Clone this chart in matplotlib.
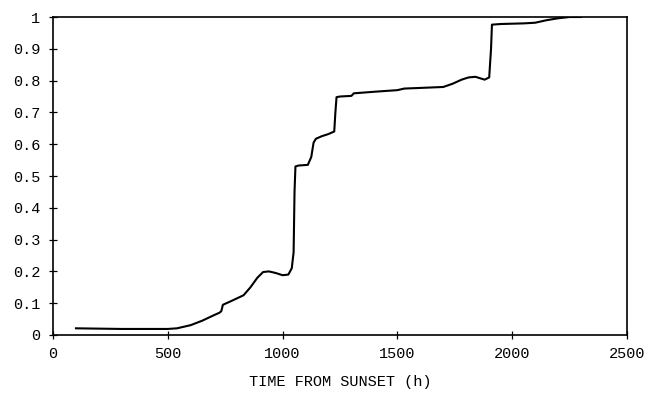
import numpy as np
import matplotlib.pyplot as plt

# curve (time from sunset in h, cumulative fraction)
time_h = [100, 200, 300, 400, 500, 540, 600, 650, 700, 725, 733, 740, 780, 830,
          860, 890, 915, 940, 970, 1000, 1025, 1040, 1048, 1052, 1056, 1070,
          1110, 1125, 1135, 1145, 1170, 1200, 1225, 1230, 1235, 1250, 1300,
          1310, 1400, 1500, 1530, 1600, 1700, 1740, 1780, 1810, 1840, 1880,
          1900, 1908, 1912, 1950, 2050, 2100, 2150, 2200, 2250, 2300]
fraction = [0.021, 0.020, 0.019, 0.019, 0.019, 0.021, 0.031, 0.045, 0.062, 0.070,
            0.075, 0.095, 0.108, 0.125, 0.150, 0.180, 0.198, 0.200, 0.195, 0.188,
            0.190, 0.210, 0.260, 0.450, 0.530, 0.533, 0.535, 0.560, 0.605, 0.617,
            0.625, 0.632, 0.640, 0.700, 0.748, 0.750, 0.752, 0.760, 0.765, 0.770,
            0.775, 0.777, 0.780, 0.790, 0.803, 0.810, 0.812, 0.803, 0.810, 0.900,
            0.976, 0.978, 0.980, 0.982, 0.990, 0.996, 1.000, 1.000]

x_ticks = [0, 500, 1000, 1500, 2000, 2500]
y_ticks = [0, 0.1, 0.2, 0.3, 0.4, 0.5, 0.6, 0.7, 0.8, 0.9, 1]
y_labels = ['0', '0.1', '0.2', '0.3', '0.4', '0.5', '0.6', '0.7', '0.8', '0.9', '1']

plt.rcParams['font.family'] = ['Liberation Mono', 'DejaVu Sans Mono']

fig = plt.figure(figsize=(6.49, 3.93), dpi=100)
ax = fig.add_axes([0.0817, 0.1476, 0.8843, 0.8091])

ax.plot(time_h, fraction, color='black', linewidth=1.5)

ax.set_xlim(0, 2500)
ax.set_ylim(0, 1)
ax.set_xticks(x_ticks)
ax.set_yticks(y_ticks)
ax.set_yticklabels(y_labels)
ax.tick_params(direction='inout', length=6, width=0.9, labelsize=11, pad=6)
for s in ax.spines.values():
    s.set_linewidth(1.2)

ax.set_xlabel('TIME FROM SUNSET (h)', fontsize=11, labelpad=10)

fig.savefig('out.png', dpi=100)
